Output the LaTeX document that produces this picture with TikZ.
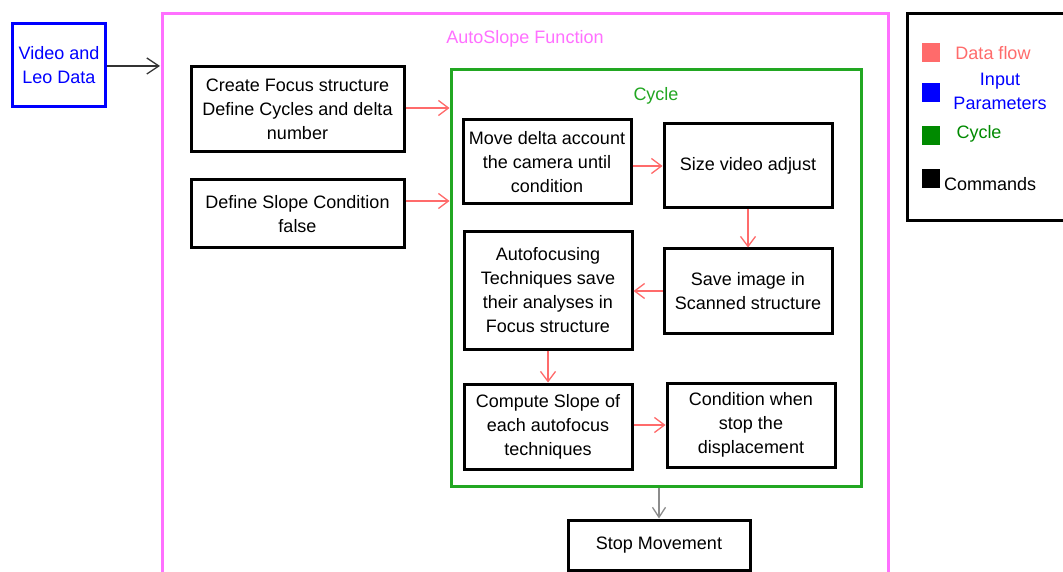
\documentclass[tikz,border=0pt]{standalone}
\usepackage{fontspec}
\setmainfont{Liberation Sans}
\usetikzlibrary{arrows.meta}
\definecolor{flowred}{HTML}{FF6B6B}
\definecolor{inblue}{HTML}{0000FF}
\definecolor{cycgreen}{HTML}{22A722}
\definecolor{leggreen}{HTML}{008A00}
\definecolor{fnpink}{HTML}{FF70FF}
\definecolor{stopgray}{HTML}{8C8C8C}
\tikzset{
  every node/.style={font=\fontsize{18}{24}\selectfont, inner sep=0pt},
  box/.style={draw=black, line width=3pt, fill=white, align=center},
  flow/.style={draw=flowred, line width=1.3pt, -{Straight Barb[length=10pt,width=15pt,line width=1.3pt]}},
  cmd/.style={draw=black!80, line width=1.3pt, -{Straight Barb[length=12pt,width=16pt,line width=1.3pt]}},
  exitflow/.style={draw=stopgray, line width=1.3pt, -{Straight Barb[length=10pt,width=13pt,line width=1.3pt]}},
  swatch/.style={minimum width=18pt, minimum height=19pt},
}
\begin{document}
\begin{tikzpicture}[x=1pt,y=-1pt]
\useasboundingbox (0,0) rectangle (1063,572);
\fill[white] (0,0) rectangle (1063,572);

% input parameters
\node[draw=inblue, line width=3pt, minimum width=93pt, minimum height=83pt,
      align=center, text=inblue] (video) at (59,65.5) {Video and\\Leo Data};

% AutoSlope function frame (runs past the lower edge)
\draw[fnpink, line width=3pt] (162,572) -- (162,14) -- (888,14) -- (888,572);
\node[text=fnpink] (fntitle) at (525,39) {AutoSlope Function};
\coordinate (fnin) at (160,66);
\draw[cmd] (video.east |- fnin) -- (fnin);

% set-up commands
\node[box, minimum width=213pt, minimum height=85pt] (create) at (297.5,109.5)
  {Create Focus structure\\Define Cycles and delta\\number};
\node[box, minimum width=213pt, minimum height=68pt] (slope) at (297.5,214)
  {Define Slope Condition\\false};

% cycle
\node[draw=cycgreen, line width=3pt, minimum width=410pt, minimum height=416pt] (cyc) at (656,278) {};
\node[text=cycgreen] (cyctitle) at (656,96) {Cycle};

\node[box, minimum width=168pt, minimum height=84pt] (move) at (547,162)
  {Move delta account\\the camera until\\condition};
\node[box, minimum width=168pt, minimum height=84pt] (size) at (748,166)
  {Size video adjust};
\node[box, minimum width=168pt, minimum height=84pt] (save) at (748,291)
  {Save image in\\Scanned structure};
\node[box, minimum width=168pt, minimum height=117pt] (auto) at (548,290.5)
  {Autofocusing\\Techniques save\\their analyses in\\Focus structure};
\node[box, minimum width=168pt, minimum height=85pt] (compute) at (548,426.5)
  {Compute Slope of\\each autofocus\\techniques};
\node[box, minimum width=168pt, minimum height=84pt] (cond) at (751,425)
  {Condition when\\stop the\\displacement};

\node[box, minimum width=182pt, minimum height=50pt] (stop) at (659,545)
  {Stop Movement};

% data flow
\draw[flow] ([yshift=1.5pt]create.east) -- ([yshift=1.5pt]create.east -| cyc.west);
\draw[flow] ([yshift=13pt]slope.east) -- ([yshift=13pt]slope.east -| cyc.west);
\draw[flow] (move.east |- size.west) -- (size.west);
\draw[flow] (size.south) -- (save.north);
\draw[flow] (save.west) -- (save.west -| auto.east);
\draw[flow] (auto.south) -- (compute.north);
\draw[flow] (compute.east |- cond.west) -- (cond.west);
\draw[exitflow] (cyc.south -| stop.north) -- (stop.north);

% legend (runs past the right edge)
\draw[black, line width=3pt] (1063,14) -- (907,14) -- (907,221) -- (1063,221);
\node[swatch, fill=flowred] (kred) at (931,52.5) {};
\node[swatch, fill=inblue] (kblue) at (931,92.5) {};
\node[swatch, fill=leggreen] (kgreen) at (931,136) {};
\node[swatch, fill=black] (kblack) at (931,178.5) {};
\node[text=flowred] (tred) at (993,53) {Data flow};
\node[text=inblue, align=center] (tblue) at (1000,91) {Input\\Parameters};
\node[text=leggreen] (tgreen) at (979,134) {Cycle};
\node[anchor=west] (tblack) at (944,184) {Commands};
\end{tikzpicture}
\end{document}
